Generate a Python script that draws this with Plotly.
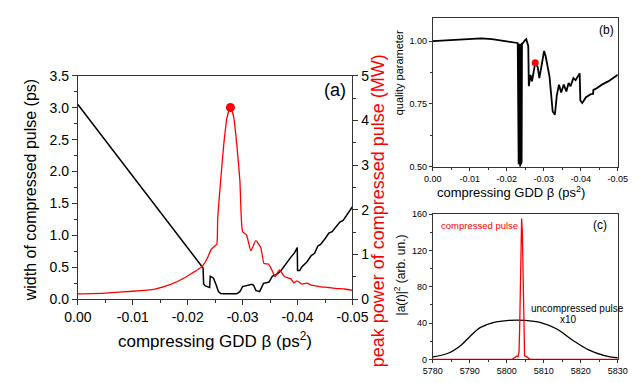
import plotly.graph_objects as go

W, H = 644, 383
FONT = "Liberation Sans, Arial, sans-serif"

# ---------------- panel (a) data ----------------
beta_width = [0, -0.005, -0.010, -0.015, -0.0197, -0.0226, -0.0228, -0.0229, -0.0232, -0.0240,
              -0.0241, -0.0243, -0.0247, -0.0252, -0.0256, -0.0260, -0.0265, -0.0289, -0.0295, -0.0300,
              -0.0312, -0.0317, -0.0320, -0.0324, -0.0331, -0.0338, -0.0343, -0.0348, -0.0354, -0.0364,
              -0.0370, -0.0379, -0.0388, -0.0395, -0.03995, -0.0400, -0.0404, -0.0408, -0.0417, -0.0425,
              -0.0431, -0.0437, -0.0442, -0.0451, -0.0457, -0.0463, -0.0472, -0.0477, -0.0483, -0.0489,
              -0.0495, -0.0500]
width_ps = [3.05, 2.49, 1.93, 1.36, 0.835, 0.51, 0.49, 0.24, 0.21, 0.185,
            0.36, 0.35, 0.33, 0.22, 0.12, 0.09, 0.085, 0.085, 0.12, 0.20,
            0.22, 0.235, 0.22, 0.14, 0.12, 0.25, 0.26, 0.27, 0.36, 0.40,
            0.45, 0.56, 0.66, 0.735, 0.81, 0.45, 0.45, 0.51, 0.585, 0.685,
            0.72, 0.835, 0.86, 0.96, 1.035, 1.06, 1.16, 1.21, 1.235, 1.31,
            1.385, 1.45]

beta_power = [0, -0.005, -0.010, -0.014, -0.017, -0.0197, -0.0208, -0.0226, -0.0235, -0.0243,
              -0.0250, -0.0253, -0.02546, -0.0260, -0.0266, -0.0272, -0.02778, -0.02835, -0.0289, -0.0295,
              -0.0300, -0.0307, -0.0315, -0.0324, -0.0333, -0.0339, -0.0347, -0.0353, -0.0359, -0.0367,
              -0.0376, -0.0382, -0.0388, -0.0393, -0.0399, -0.0408, -0.0417, -0.0425, -0.0433, -0.0440,
              -0.0450, -0.0457, -0.0465, -0.0472, -0.0486, -0.0500]
power_mw = [0.12, 0.14, 0.18, 0.23, 0.34, 0.50, 0.585, 0.73, 0.90, 1.12,
            1.20, 1.23, 1.80, 2.66, 3.51, 4.09, 4.29, 4.09, 3.51, 2.66,
            1.51, 1.44, 1.09, 1.31, 1.16, 0.80, 0.79, 0.66, 0.51, 0.66,
            0.51, 0.48, 0.457, 0.37, 0.41, 0.34, 0.36, 0.315, 0.30, 0.285,
            0.27, 0.264, 0.25, 0.24, 0.23, 0.20]

gdd_tickvals = [0, -0.01, -0.02, -0.03, -0.04, -0.05]
gdd_ticktext = ["0.00", "-0.01", "-0.02", "-0.03", "-0.04", "-0.05"]
width_tickvals = [0, 0.5, 1.0, 1.5, 2.0, 2.5, 3.0, 3.5]
width_ticktext = ["0.0", "0.5", "1.0", "1.5", "2.0", "2.5", "3.0", "3.5"]
power_tickvals = [0, 1, 2, 3, 4, 5]

# ---------------- panel (b) data ----------------
beta_q_pre = [0, -0.005, -0.010, -0.0131, -0.016, -0.020, -0.0229]
q_pre = [1.000, 1.005, 1.010, 1.011, 1.008, 1.000, 0.993]
beta_q_band = [-0.02295, -0.02300, -0.02310, -0.02320, -0.02330, -0.02340, -0.02350,
               -0.02360, -0.02370, -0.02380, -0.02390, -0.02400, -0.02410, -0.02420]
q_band = [0.99, 0.52, 0.99, 0.51, 0.99, 0.51, 0.99, 0.50, 0.99, 0.51, 0.99, 0.52, 0.99, 0.99]
beta_q_post = [-0.0249, -0.02526, -0.0258, -0.02595, -0.0264, -0.0268, -0.02768, -0.02835, -0.0288,
               -0.02912, -0.03008, -0.0305, -0.03154, -0.0324, -0.0330, -0.0335, -0.0341, -0.0347,
               -0.0354, -0.0361, -0.0367, -0.0372, -0.0380, -0.0386, -0.0393, -0.0397, -0.03987,
               -0.0404, -0.0414, -0.0427, -0.0433, -0.0434, -0.0440, -0.0457, -0.0474, -0.0500]
q_post = [1.003, 1.008, 0.98, 0.821, 0.866, 0.84, 0.914, 0.897, 0.853,
          0.885, 0.961, 0.94, 0.859, 0.72, 0.707, 0.783, 0.827, 0.796,
          0.827, 0.80, 0.834, 0.82, 0.853, 0.845, 0.866, 0.872, 0.764,
          0.754, 0.777, 0.789, 0.79, 0.806, 0.81, 0.827, 0.84, 0.866]
q_tickvals = [0.50, 0.75, 1.00]
q_ticktext = ["0.50", "0.75", "1.00"]

# ---------------- panel (c) data ----------------
t_uncompressed = [5780, 5784.3, 5787.7, 5790.3, 5792.9, 5796.3, 5800.6, 5804.9, 5809.2,
                  5813.5, 5817.8, 5822.1, 5826.4, 5830]
a_uncompressed = [2.8, 7.0, 15.8, 26.4, 35.2, 40.5, 42.9, 42.9, 40.5, 33.4, 21.1, 10.5, 4.2, 1.8]
t_compressed = [5780, 5801.5, 5802.3, 5802.7, 5803.0, 5803.3, 5803.5, 5803.7, 5803.9, 5804.0,
                5804.2, 5804.4, 5804.6, 5804.8, 5805.1, 5805.4, 5805.8, 5806.3, 5830]
a_compressed = [0, 0, 2.5, 3.5, 3, 8, 40, 110, 150, 155, 140, 80, 25, 4, 3.5, 2.5, 2, 0, 0]
t_tickvals = [5780, 5790, 5800, 5810, 5820, 5830]
a_tickvals = [0, 40, 80, 120, 160]

# ---------------- figure ----------------
def px_x(x):
    return x / W

def px_y(y):
    return 1 - y / H

fig = go.Figure()
fig.add_trace(go.Scatter(x=beta_width, y=width_ps, mode="lines",
                         line=dict(color="black", width=1.5), xaxis="x", yaxis="y"))
fig.add_trace(go.Scatter(x=beta_power, y=power_mw, mode="lines",
                         line=dict(color="red", width=1.3, shape="spline", smoothing=0.5),
                         xaxis="x", yaxis="y2"))
imax = power_mw.index(max(power_mw))
fig.add_trace(go.Scatter(x=[beta_power[imax]], y=[power_mw[imax]], mode="markers",
                         marker=dict(color="red", size=9), xaxis="x", yaxis="y2"))

beta_q = beta_q_pre + beta_q_band + beta_q_post
q_all = q_pre + q_band + q_post
fig.add_trace(go.Scatter(x=beta_q, y=q_all, mode="lines",
                         line=dict(color="black", width=1.8), xaxis="x2", yaxis="y3"))
iq = beta_q_post.index(-0.02768)
fig.add_trace(go.Scatter(x=[beta_q_post[iq]], y=[q_post[iq]], mode="markers",
                         marker=dict(color="red", size=7), xaxis="x2", yaxis="y3"))

fig.add_trace(go.Scatter(x=t_uncompressed, y=a_uncompressed, mode="lines",
                         line=dict(color="black", width=1.3, shape="spline"), xaxis="x3", yaxis="y4"))
fig.add_trace(go.Scatter(x=t_compressed, y=a_compressed, mode="lines",
                         line=dict(color="red", width=1.3), xaxis="x3", yaxis="y4"))

axcol = "#333333"
common = dict(showgrid=False, zeroline=False, showline=True, linecolor=axcol, linewidth=1,
              ticks="outside", tickcolor=axcol, tickwidth=1, color="black")

fig.update_layout(
    width=W, height=H, margin=dict(l=0, r=0, t=0, b=0),
    paper_bgcolor="white", plot_bgcolor="white", showlegend=False,
    font=dict(family=FONT, color="black"),
    xaxis=dict(domain=[px_x(67), px_x(355)], range=[0, -0.05], anchor="y",
               tickvals=gdd_tickvals, ticktext=gdd_ticktext, ticklen=5, mirror=True,
               tickfont=dict(size=14), minor=dict(ticks="outside", dtick=0.005, ticklen=3, tickcolor=axcol),
               **common),
    yaxis=dict(domain=[px_y(304), px_y(70.7)], range=[0, 3.5], anchor="x",
               tickvals=width_tickvals, ticktext=width_ticktext, ticklen=5,
               tickfont=dict(size=14), minor=dict(ticks="outside", dtick=0.25, ticklen=3, tickcolor=axcol),
               **common),
    yaxis2=dict(overlaying="y", side="right", range=[0, 5], anchor="x",
                tickvals=power_tickvals, ticklen=5,
                tickfont=dict(size=14), minor=dict(ticks="outside", dtick=0.5, ticklen=3, tickcolor=axcol),
                **common),
    xaxis2=dict(domain=[px_x(439.3), px_x(633.3)], range=[0, -0.05], anchor="y3",
                tickvals=gdd_tickvals, ticktext=gdd_ticktext, ticklen=3, mirror=True,
                tickfont=dict(size=9), minor=dict(ticks="outside", dtick=0.005, ticklen=2, tickcolor=axcol),
                **common),
    yaxis3=dict(domain=[px_y(165.7), px_y(10)], range=[0.5, 1.094], anchor="x2",
                tickvals=q_tickvals, ticktext=q_ticktext, ticklen=3, mirror=True,
                tickfont=dict(size=9), minor=dict(ticks="outside", dtick=0.125, ticklen=2, tickcolor=axcol),
                **common),
    xaxis3=dict(domain=[px_x(439.3), px_x(633.3)], range=[5780, 5830], anchor="y4",
                tickvals=t_tickvals, ticklen=3, mirror=True,
                tickfont=dict(size=9), minor=dict(ticks="outside", dtick=5, ticklen=2, tickcolor=axcol),
                **common),
    yaxis4=dict(domain=[px_y(366.7), px_y(215)], range=[0, 160], anchor="x3",
                tickvals=a_tickvals, ticklen=3, mirror=True,
                tickfont=dict(size=9), minor=dict(ticks="outside", dtick=20, ticklen=2, tickcolor=axcol),
                **common),
)

def ann(text, x, y, size, color="black", angle=0):
    fig.add_annotation(text=text, x=px_x(x), y=px_y(y), xref="paper", yref="paper",
                       showarrow=False, textangle=angle, xanchor="center", yanchor="middle",
                       font=dict(family=FONT, size=size, color=color))

ann("width of compressed pulse (ps)", 17, 190, 16, angle=-90)
ann("peak power of compressed pulse (MW)", 382, 212, 18, color="red", angle=-90)
ann("compressing GDD β (ps<sup>2</sup>)", 211, 346, 17)
ann("(a)", 337, 86, 18)
ann("quality parameter", 404, 68, 11, angle=-90)
ann("compressing GDD β (ps<sup>2</sup>)", 521, 192, 13)
ann("(b)", 621, 23, 12)
ann("|a(<i>t</i>)|<sup>2</sup> (arb. un.)", 405, 279, 12, angle=-90)
ann("compressed pulse", 488, 227, 9.5, color="red")
ann("(c)", 615, 226, 12)
ann("uncompressed pulse", 591, 314, 10)
ann("x10", 582, 325, 10)

fig.write_html("out.html")
